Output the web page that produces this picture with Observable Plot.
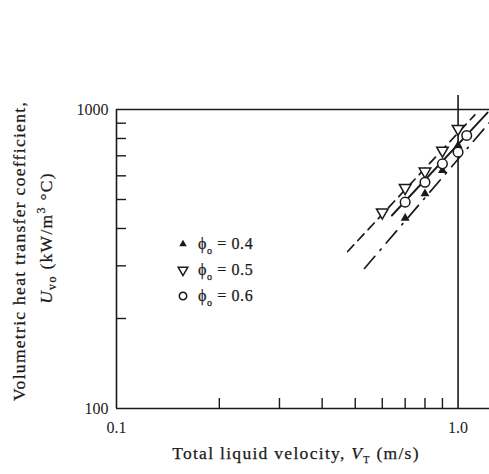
<!DOCTYPE html>
<html>
<head>
<meta charset="utf-8">
<script src="https://cdn.jsdelivr.net/npm/d3@7"></script>
<script src="https://cdn.jsdelivr.net/npm/@observablehq/plot@0.6"></script>
<style>
  html, body { margin: 0; padding: 0; background: #fff; }
  #chart { width: 489px; height: 474px; }
  svg { display: block; }
</style>
</head>
<body>
<div id="chart"></div>
<script>
// ---- data ----
const xDomain = [0.1, 1.236];           // visible extent of the velocity axis (cropped at right)
const yDomain = [100, 1000];
const xLabelTicks = [0.1, 1.0];
const yLabelTicks = [100, 1000];
const xMinorTicks = [0.2, 0.3, 0.4, 0.5, 0.6, 0.7, 0.8, 0.9];
const yMinorTicks = [200, 300, 400, 500, 600, 700, 800, 900];

// phi_o = 0.4 (filled up-triangles)
const vel04 = [0.7, 0.8, 0.9, 1.0];
const U04   = [433, 523, 625, 758];
// phi_o = 0.5 (open down-triangles)
const vel05 = [0.6, 0.7, 0.8, 0.9, 1.0];
const U05   = [453, 547, 621, 729, 862];
// phi_o = 0.6 (open circles)
const vel06 = [0.7, 0.8, 0.9, 1.0, 1.06];
const U06   = [490, 571, 658, 720, 819];

// correlation lines (end points)
const fit04V = [0.532, 1.236], fit04U = [294, 905];
const fit05V = [0.475, 1.12],  fit05U = [335, 960];
const fit06V = [0.64, 1.22],   fit06U = [442, 977];

const legendItems = ["0.4", "0.5", "0.6"];

// ---- build tables ----
const pts = (v, u) => v.map((x, i) => ({x, y: u[i]}));
const P04 = pts(vel04, U04), P05 = pts(vel05, U05), P06 = pts(vel06, U06);
const L04 = pts(fit04V, fit04U), L05 = pts(fit05V, fit05U), L06 = pts(fit06V, fit06U);

const ink = "#1a1a1a";
const font = "'Liberation Serif', 'Times New Roman', serif";

const chart = Plot.plot({
  width: 489,
  height: 474,
  marginLeft: 116,
  marginRight: 0,
  marginTop: 109,
  marginBottom: 66,
  style: {fontFamily: font, fontSize: "16px", color: ink, background: "#fff", overflow: "visible"},
  x: {type: "log", domain: xDomain, axis: null},
  y: {type: "log", domain: yDomain, axis: null},
  marks: [
    // frame lines
    Plot.ruleY(yDomain, {stroke: ink, strokeWidth: 1.6}),
    Plot.ruleX([xDomain[0]], {stroke: ink, strokeWidth: 1.6}),
    Plot.ruleX([1.0], {stroke: ink, strokeWidth: 1.6, insetTop: -14}),
    // minor ticks (inward)
    Plot.axisX(xMinorTicks, {anchor: "bottom", tickSize: -10, tickFormat: () => "", label: null, stroke: ink, strokeWidth: 1.4}),
    Plot.axisY(yMinorTicks, {anchor: "left", tickSize: -10, tickFormat: () => "", label: null, stroke: ink, strokeWidth: 1.4}),
    // tick labels
    Plot.axisX(xLabelTicks, {anchor: "bottom", tickSize: 0, tickPadding: 13, tickFormat: d => d.toFixed(1), label: null, fontSize: 16, fill: ink, stroke: ink, strokeWidth: 0.25}),
    Plot.axisY(yLabelTicks, {anchor: "left", tickSize: 0, tickPadding: 8, tickFormat: d => String(d), label: null, fontSize: 16, fill: ink, stroke: ink, strokeWidth: 0.25}),
    // correlation lines
    Plot.line(L05, {x: "x", y: "y", stroke: ink, strokeWidth: 1.7, strokeDasharray: "9,6"}),
    Plot.line(L04, {x: "x", y: "y", stroke: ink, strokeWidth: 1.7, strokeDasharray: "16,8,1.5,8"}),
    Plot.line(L06, {x: "x", y: "y", stroke: ink, strokeWidth: 1.9}),
    // data points
    Plot.dot(P04, {x: "x", y: "y", symbol: "triangle", r: 3.3, fill: ink, stroke: "none"}),
    Plot.dot(P05, {x: "x", y: "y", symbol: "triangle", rotate: 180, r: 4.3, fill: "#fff", stroke: ink, strokeWidth: 1.5}),
    Plot.dot(P06, {x: "x", y: "y", symbol: "circle", r: 4.8, fill: "#fff", stroke: ink, strokeWidth: 1.5})
  ]
});

document.getElementById("chart").appendChild(chart);

// ---- titles and legend (real text) ----
const svg = d3.select(chart);
const textStyle = sel => sel
  .attr("font-family", font).attr("fill", ink)
  .attr("stroke", ink).attr("stroke-width", 0.25);

// Y title, two rotated lines
svg.append("text")
  .attr("transform", "translate(25,251) rotate(-90)")
  .attr("text-anchor", "middle")
  .attr("font-size", 17.5).attr("letter-spacing", 1.3)
  .call(textStyle)
  .text("Volumetric heat transfer coefficient,");

const yt2 = svg.append("text")
  .attr("transform", "translate(52,238) rotate(-90)")
  .attr("text-anchor", "middle")
  .attr("font-size", 17.5).attr("letter-spacing", 1.3)
  .call(textStyle);
yt2.append("tspan").attr("font-style", "italic").text("U");
yt2.append("tspan").attr("font-size", 12).attr("dy", 4).text("vo");
yt2.append("tspan").attr("dy", -4).text(" (kW/m");
yt2.append("tspan").attr("font-size", 12).attr("dy", -7).text("3");
yt2.append("tspan").attr("dy", 7).text(" °C)");

// X title
const xt = svg.append("text")
  .attr("x", 296).attr("y", 459)
  .attr("text-anchor", "middle")
  .attr("font-size", 17.5).attr("letter-spacing", 1.3)
  .call(textStyle);
xt.append("tspan").text("Total liquid velocity, ");
xt.append("tspan").attr("font-style", "italic").text("V");
xt.append("tspan").attr("font-size", 10).attr("dy", 4).text("T");
xt.append("tspan").attr("dy", -4).text(" (m/s)");

// Legend
const legend = svg.append("g");
const symbols = [
  {type: d3.symbolTriangle, size: Math.PI * 2.8 * 2.8, fill: ink, stroke: "none", rot: 0},
  {type: d3.symbolTriangle, size: Math.PI * 3.6 * 3.6, fill: "#fff", stroke: ink, rot: 180},
  {type: d3.symbolCircle, size: Math.PI * 3.7 * 3.7, fill: "#fff", stroke: ink, rot: 0}
];
legendItems.forEach((val, i) => {
  const cy = 244 + i * 26;
  const s = symbols[i];
  legend.append("path")
    .attr("d", d3.symbol(s.type, s.size)())
    .attr("transform", `translate(183,${cy}) rotate(${s.rot})`)
    .attr("fill", s.fill).attr("stroke", s.stroke).attr("stroke-width", 1.5);
  const t = legend.append("text")
    .attr("x", 198).attr("y", cy + 5)
    .attr("text-anchor", "start")
    .attr("font-size", 16).attr("letter-spacing", 0.6)
    .call(textStyle);
  t.append("tspan").text("ϕ");
  t.append("tspan").attr("font-size", 10).attr("dy", 5).text("o");
  t.append("tspan").attr("dy", -5).text(" = " + val);
});
</script>
</body>
</html>
